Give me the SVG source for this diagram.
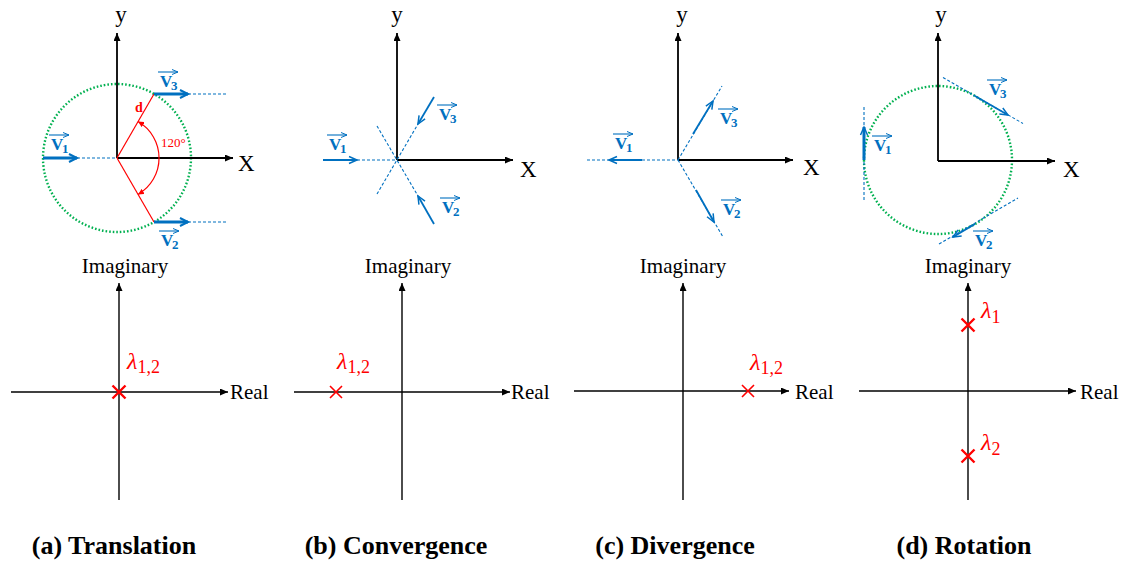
<svg xmlns="http://www.w3.org/2000/svg" width="1124" height="561" viewBox="0 0 1124 561">
<style>
.ax{stroke:#000;stroke-width:1.8;fill:none}
.ax2{stroke:#000;stroke-width:1.4;fill:none}
.dash{stroke:#0070C0;stroke-width:1.1;stroke-dasharray:3 2;fill:none}
.vec{stroke:#0070C0;stroke-width:3;fill:none}
.vec2{stroke:#0070C0;stroke-width:1.8;fill:none}
.green{stroke:#00B050;stroke-width:2.4;stroke-dasharray:1.6 2;fill:none}
.red{stroke:#FF0000;stroke-width:1.2;fill:none}
.xm{stroke:#FF0000;stroke-width:2.4}
.xm2{stroke:#FF0000;stroke-width:1.6}
.axl{font-family:"Liberation Serif","Times New Roman",serif;font-size:23px;fill:#000}
.lab{font-family:"Liberation Serif","Times New Roman",serif;font-size:21px;fill:#000}
.cap{font-family:"Liberation Serif","Times New Roman",serif;font-size:26px;font-weight:bold;fill:#000;text-anchor:middle}
.vV{font-family:"Liberation Serif","Times New Roman",serif;font-size:17px;font-weight:bold;fill:#0070C0}
.vs{font-family:"Liberation Serif","Times New Roman",serif;font-size:13px;font-weight:bold;fill:#0070C0}
.ov{stroke:#0070C0;stroke-width:1.1;fill:none}
.lam{font-family:"Liberation Serif","Times New Roman",serif;font-size:24px;font-style:italic;fill:#FF0000}
.lsub{font-family:"Liberation Serif","Times New Roman",serif;font-size:18px;fill:#FF0000}
.rt{font-family:"Liberation Serif","Times New Roman",serif;fill:#FF0000}
</style>
<defs>
<marker id="ah" viewBox="0 0 8 7" refX="8" refY="3.5" markerWidth="8" markerHeight="7" markerUnits="userSpaceOnUse" orient="auto"><path d="M0,0 L8,3.5 L0,7 z" fill="#000"/></marker>
<marker id="bh" viewBox="0 0 10 10" refX="9" refY="5" markerWidth="10" markerHeight="10" markerUnits="userSpaceOnUse" orient="auto" overflow="visible"><path d="M1,1 L9,5 L1,9" fill="none" stroke="#0070C0" stroke-width="2"/></marker>
<marker id="bh2" viewBox="0 0 10 10" refX="9" refY="5" markerWidth="10" markerHeight="10" markerUnits="userSpaceOnUse" orient="auto" overflow="visible"><path d="M1,1.5 L9,5 L1,8.5" fill="none" stroke="#0070C0" stroke-width="1.5"/></marker>
<marker id="oh" viewBox="0 0 6 6" refX="6" refY="3" markerWidth="6" markerHeight="6" markerUnits="userSpaceOnUse" orient="auto"><path d="M0,0.5 L6,3 L0,5.5" fill="none" stroke="#0070C0" stroke-width="1"/></marker>
<marker id="rh" viewBox="0 0 6 6" refX="6" refY="3" markerWidth="6" markerHeight="6" markerUnits="userSpaceOnUse" orient="auto-start-reverse"><path d="M0,0 L6,3 L0,6 z" fill="#FF0000"/></marker>
</defs>
<rect width="1124" height="561" fill="#fff"/>

<!-- Panel (a) -->
<g id="panel-a">
  <circle class="green" cx="117" cy="158" r="74"/>
  <line class="ax" x1="117" y1="158" x2="117" y2="33" marker-end="url(#ah)"/>
  <line class="ax" x1="117" y1="158" x2="233" y2="158" marker-end="url(#ah)"/>
  <text class="axl" x="121" y="22" text-anchor="middle">y</text>
  <text class="axl" x="238" y="171">X</text>
  <line class="red" x1="117" y1="158" x2="154" y2="94"/>
  <line class="red" x1="117" y1="158" x2="154" y2="222"/>
  <path class="red" d="M138,121.6 A42,42 0 0 1 138,194.4" marker-start="url(#rh)" marker-end="url(#rh)"/>
  <text class="rt" x="135" y="112" font-size="14" font-weight="bold">d</text>
  <text class="rt" x="161" y="147" font-size="13">120°</text>
  <line class="dash" x1="77" y1="158" x2="117" y2="158"/>
  <line class="vec" x1="43" y1="158" x2="77" y2="158" marker-end="url(#bh)"/>
  <line class="dash" x1="188" y1="94" x2="228" y2="94"/>
  <line class="vec" x1="154" y1="94" x2="188" y2="94" marker-end="url(#bh)"/>
  <line class="dash" x1="188" y1="222" x2="228" y2="222"/>
  <line class="vec" x1="154" y1="222" x2="188" y2="222" marker-end="url(#bh)"/>
  <g transform="translate(51,150)"><text class="vV">V</text><text class="vs" x="11" y="3">1</text><line class="ov" x1="-2" y1="-15" x2="18" y2="-15" marker-end="url(#oh)"/></g>
  <g transform="translate(160,87)"><text class="vV">V</text><text class="vs" x="11" y="3">3</text><line class="ov" x1="-2" y1="-15" x2="18" y2="-15" marker-end="url(#oh)"/></g>
  <g transform="translate(161,246)"><text class="vV">V</text><text class="vs" x="11" y="3">2</text><line class="ov" x1="-2" y1="-15" x2="18" y2="-15" marker-end="url(#oh)"/></g>

  <text class="lab" x="125" y="273" text-anchor="middle">Imaginary</text>
  <line class="ax2" x1="119" y1="500" x2="119" y2="283" marker-end="url(#ah)"/>
  <line class="ax2" x1="11" y1="392" x2="228" y2="392" marker-end="url(#ah)"/>
  <text class="lab" x="230" y="399">Real</text>
  <path class="xm" d="M112.5,385.5 L125.5,398.5 M125.5,385.5 L112.5,398.5"/>
  <text x="127" y="369"><tspan class="lam">λ</tspan><tspan class="lsub" dy="4">1,2</tspan></text>
  <text class="cap" x="114" y="554">(a) Translation</text>
</g>

<!-- Panel (b) -->
<g id="panel-b">
  <line class="ax" x1="397" y1="160" x2="397" y2="33" marker-end="url(#ah)"/>
  <line class="ax" x1="397" y1="160" x2="513" y2="160" marker-end="url(#ah)"/>
  <text class="axl" x="397" y="22" text-anchor="middle">y</text>
  <text class="axl" x="520" y="177">X</text>
  <line class="dash" x1="357" y1="160" x2="397" y2="160"/>
  <line class="vec2" x1="323" y1="160" x2="357" y2="160" marker-end="url(#bh2)"/>
  <line class="dash" x1="377" y1="126" x2="418" y2="196"/>
  <line class="dash" x1="377" y1="194" x2="418" y2="124"/>
  <line class="vec2" x1="434" y1="97" x2="418" y2="124" marker-end="url(#bh2)"/>
  <line class="vec2" x1="434" y1="224" x2="418" y2="196" marker-end="url(#bh2)"/>
  <g transform="translate(329,150)"><text class="vV">V</text><text class="vs" x="11" y="3">1</text><line class="ov" x1="-2" y1="-15" x2="18" y2="-15" marker-end="url(#oh)"/></g>
  <g transform="translate(439,120)"><text class="vV">V</text><text class="vs" x="11" y="3">3</text><line class="ov" x1="-2" y1="-15" x2="18" y2="-15" marker-end="url(#oh)"/></g>
  <g transform="translate(442,213)"><text class="vV">V</text><text class="vs" x="11" y="3">2</text><line class="ov" x1="-2" y1="-15" x2="18" y2="-15" marker-end="url(#oh)"/></g>

  <text class="lab" x="408" y="273" text-anchor="middle">Imaginary</text>
  <line class="ax2" x1="402" y1="500" x2="402" y2="283" marker-end="url(#ah)"/>
  <line class="ax2" x1="294" y1="392" x2="510" y2="392" marker-end="url(#ah)"/>
  <text class="lab" x="511" y="399">Real</text>
  <path class="xm2" d="M330,386 L342,398 M342,386 L330,398"/>
  <text x="337" y="369"><tspan class="lam">λ</tspan><tspan class="lsub" dy="4">1,2</tspan></text>
  <text class="cap" x="396" y="554">(b) Convergence</text>
</g>

<!-- Panel (c) -->
<g id="panel-c">
  <line class="ax" x1="678" y1="160" x2="678" y2="33" marker-end="url(#ah)"/>
  <line class="ax" x1="678" y1="160" x2="793" y2="160" marker-end="url(#ah)"/>
  <text class="axl" x="682" y="22" text-anchor="middle">y</text>
  <text class="axl" x="803" y="175">X</text>
  <line class="dash" x1="587" y1="160" x2="678" y2="160"/>
  <line class="vec2" x1="642" y1="160" x2="609" y2="160" marker-end="url(#bh2)"/>
  <line class="dash" x1="678" y1="160" x2="722" y2="86"/>
  <line class="vec2" x1="693" y1="134" x2="713" y2="101" marker-end="url(#bh2)"/>
  <line class="dash" x1="678" y1="160" x2="723" y2="237"/>
  <line class="vec2" x1="696" y1="190" x2="714" y2="222" marker-end="url(#bh2)"/>
  <g transform="translate(615,149)"><text class="vV">V</text><text class="vs" x="11" y="3">1</text><line class="ov" x1="-2" y1="-15" x2="18" y2="-15" marker-end="url(#oh)"/></g>
  <g transform="translate(720,124)"><text class="vV">V</text><text class="vs" x="11" y="3">3</text><line class="ov" x1="-2" y1="-15" x2="18" y2="-15" marker-end="url(#oh)"/></g>
  <g transform="translate(723,215)"><text class="vV">V</text><text class="vs" x="11" y="3">2</text><line class="ov" x1="-2" y1="-15" x2="18" y2="-15" marker-end="url(#oh)"/></g>

  <text class="lab" x="683" y="273" text-anchor="middle">Imaginary</text>
  <line class="ax2" x1="683" y1="500" x2="683" y2="283" marker-end="url(#ah)"/>
  <line class="ax2" x1="574" y1="391" x2="789" y2="391" marker-end="url(#ah)"/>
  <text class="lab" x="795" y="399">Real</text>
  <path class="xm2" d="M742,385 L754,397 M754,385 L742,397"/>
  <text x="750" y="370"><tspan class="lam">λ</tspan><tspan class="lsub" dy="4">1,2</tspan></text>
  <text class="cap" x="675" y="554">(c) Divergence</text>
</g>

<!-- Panel (d) -->
<g id="panel-d">
  <circle class="green" cx="938" cy="160" r="74"/>
  <line class="ax" x1="938" y1="161" x2="938" y2="33" marker-end="url(#ah)"/>
  <line class="ax" x1="938" y1="161" x2="1055" y2="161" marker-end="url(#ah)"/>
  <text class="axl" x="941" y="22" text-anchor="middle">y</text>
  <text class="axl" x="1063" y="177">X</text>
  <line class="dash" x1="864" y1="107" x2="864" y2="200"/>
  <line class="vec" x1="864" y1="160" x2="864" y2="127" marker-end="url(#bh2)"/>
  <line class="dash" x1="943" y1="77.5" x2="1023" y2="123.5"/>
  <line class="vec2" x1="975" y1="96" x2="1008" y2="115" marker-end="url(#bh2)"/>
  <line class="dash" x1="939" y1="244" x2="1018" y2="198"/>
  <line class="vec2" x1="975" y1="224" x2="953" y2="237" marker-end="url(#bh2)"/>
  <g transform="translate(874,151)"><text class="vV">V</text><text class="vs" x="11" y="3">1</text><line class="ov" x1="-2" y1="-15" x2="18" y2="-15" marker-end="url(#oh)"/></g>
  <g transform="translate(989,95)"><text class="vV">V</text><text class="vs" x="11" y="3">3</text><line class="ov" x1="-2" y1="-15" x2="18" y2="-15" marker-end="url(#oh)"/></g>
  <g transform="translate(975,246)"><text class="vV">V</text><text class="vs" x="11" y="3">2</text><line class="ov" x1="-2" y1="-15" x2="18" y2="-15" marker-end="url(#oh)"/></g>

  <text class="lab" x="968" y="273" text-anchor="middle">Imaginary</text>
  <line class="ax2" x1="968" y1="500" x2="968" y2="283" marker-end="url(#ah)"/>
  <line class="ax2" x1="859" y1="391" x2="1076" y2="391" marker-end="url(#ah)"/>
  <text class="lab" x="1080" y="399">Real</text>
  <path class="xm" d="M961.5,318.5 L974.5,331.5 M974.5,318.5 L961.5,331.5"/>
  <path class="xm" d="M961.5,449.5 L974.5,462.5 M974.5,449.5 L961.5,462.5"/>
  <text x="981" y="318"><tspan class="lam">λ</tspan><tspan class="lsub" dy="5">1</tspan></text>
  <text x="981" y="450"><tspan class="lam">λ</tspan><tspan class="lsub" dy="5">2</tspan></text>
  <text class="cap" x="964" y="554">(d) Rotation</text>
</g>
</svg>
